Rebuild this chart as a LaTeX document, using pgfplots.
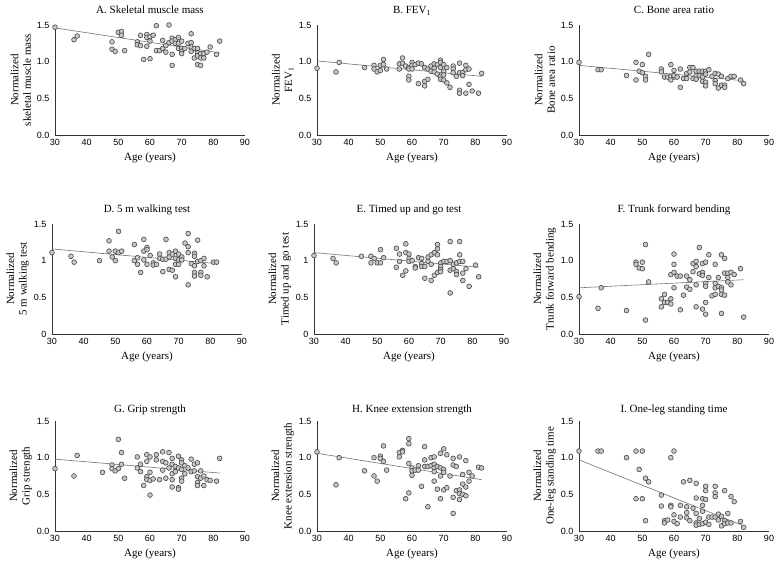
\documentclass[border=0pt]{standalone}
\usepackage{fontspec}
\setmainfont{Liberation Serif}
\newfontfamily\ticksf{Liberation Sans}
\usepackage{pgfplots}
\pgfplotsset{compat=1.18}

\pgfplotsset{
  panel/.style={
    scale only axis, width=190pt, height=110pt,
    xmin=30, xmax=90, ymin=0, ymax=1.5,
    xtick={30,40,...,90}, ytick={0,0.5,1,1.5},
    axis lines=left, axis line style={-, black!80, line width=0.6pt},
    major tick length=0pt, clip=false,
    tick label style={font=\ticksf\fontsize{9}{10}\selectfont},
    /pgf/number format/assume math mode=true,
    yticklabel style={xshift=-2pt},
    xticklabel style={yshift=-1pt},
    yticklabel style={/pgf/number format/.cd, fixed, fixed zerofill, precision=1},
    title style={font=\fontsize{11}{13}\selectfont, at={(axis description cs:0.5,1)}, anchor=base, yshift=5pt},
    label style={font=\fontsize{11}{12.5}\selectfont},
    xlabel={Age (years)},
    xlabel style={at={(axis description cs:0.5,-0.21)}, anchor=center},
    ylabel style={at={(axis description cs:-0.18,0.5)}, anchor=center, align=center},
  },
  dots/.style={only marks, mark=*, mark size=2.4pt,
    mark options={draw=black!72, fill=black!22, line width=0.6pt}},
  trend/.style={black!55, line width=0.6pt, no marks},
  plainy/.style={yticklabel style={/pgf/number format/.cd, fixed, precision=1, fixed zerofill=false}},
  lastrow/.style={title style={yshift=-3pt}},
}

\begin{document}
\begin{tikzpicture}[x=1pt,y=1pt]
\useasboundingbox (0,0) rectangle (780,565);

% A
\begin{axis}[panel, at={(55pt,430pt)}, anchor=south west,
  title={A. Skeletal muscle mass}, ylabel={Normalized\\skeletal muscle mass}]
\addplot[dots] coordinates {
(30,1.47) (36,1.30) (37,1.35) (48,1.27) (48,1.17) (49,1.14) (50,1.40) (51,1.41) (51,1.36) (52,1.15)
(56,1.27) (56,1.23) (57,1.36) (57,1.22) (58,1.03) (59,1.37) (59,1.33) (59,1.21) (60,1.34) (60,1.28)
(60,1.04) (61,1.36) (62,1.49) (62,1.15) (63,1.15) (64,1.29) (64,1.18) (65,1.22) (65,1.13) (66,1.50)
(66,1.26) (67,1.32) (67,1.28) (67,1.10) (67,0.95) (68,1.30) (68,1.25) (69,1.33) (69,1.25) (69,1.18)
(70,1.28) (70,1.18) (70,1.14) (70,1.11) (71,1.18) (72,1.25) (73,1.38) (73,1.26) (73,1.20) (73,1.14)
(74,1.18) (74,1.05) (75,1.18) (75,1.12) (75,1.08) (75,0.96) (76,1.11) (76,1.05) (76,0.95) (77,1.11)
(77,1.05) (78,1.13) (79,1.20) (81,1.10) (82,1.28)};
\addplot[trend] coordinates {(30,1.46) (82,1.12)};
\end{axis}

% B
\begin{axis}[panel, at={(317pt,430pt)}, anchor=south west,
  title={B. FEV\textsubscript{1}}, ylabel={Normalized\\FEV\textsubscript{1}}]
\addplot[dots] coordinates {
(30,0.91) (36,0.86) (37,0.99) (45,0.92) (48,0.95) (48,0.90) (49,0.86) (50,0.88) (50,0.95) (51,1.03)
(51,0.96) (52,0.90) (56,0.97) (56,0.90) (57,1.05) (57,0.98) (58,0.94) (59,0.92) (59,0.90) (59,0.80)
(59,0.75) (60,0.99) (60,0.95) (60,0.90) (61,0.96) (62,0.98) (62,0.70) (63,0.97) (64,0.92) (64,0.73)
(64,0.67) (65,0.76) (65,0.90) (66,0.87) (66,0.94) (67,0.97) (67,0.91) (67,0.86) (68,0.96) (68,0.83)
(69,1.02) (69,0.99) (69,0.92) (69,0.80) (69,0.76) (70,0.96) (70,0.87) (70,0.82) (70,0.75) (71,0.92)
(71,0.71) (72,0.65) (73,0.94) (73,0.90) (73,0.85) (74,0.80) (75,0.98) (75,0.85) (75,0.61) (75,0.57)
(76,0.85) (76,0.81) (77,0.95) (77,0.89) (77,0.57) (78,0.90) (78,0.69) (79,0.60) (81,0.57) (82,0.84)};
\addplot[trend] coordinates {(30,1.01) (82,0.80)};
\end{axis}

% C
\begin{axis}[panel, at={(579pt,430pt)}, anchor=south west,
  title={C. Bone area ratio}, ylabel={Normalized\\Bone area ratio}]
\addplot[dots] coordinates {
(30,0.99) (36,0.89) (37,0.89) (45,0.81) (48,0.99) (48,0.75) (49,0.87) (50,0.96) (50,0.85) (51,0.80)
(51,0.75) (52,1.10) (56,0.90) (56,0.86) (57,0.79) (58,0.79) (59,0.96) (59,0.80) (59,0.75) (60,0.88)
(60,0.79) (60,0.81) (61,0.79) (62,0.90) (62,0.65) (63,0.77) (64,0.84) (64,0.77) (65,0.86) (65,0.92)
(66,0.92) (66,0.77) (67,0.87) (67,0.81) (67,0.76) (68,0.87) (68,0.81) (69,0.87) (69,0.79) (69,0.73)
(70,0.87) (70,0.83) (70,0.72) (70,0.67) (71,0.89) (72,0.80) (73,0.84) (73,0.74) (73,0.70) (74,0.83)
(74,0.64) (75,0.80) (75,0.68) (76,0.68) (76,0.65) (77,0.77) (78,0.80) (79,0.80) (81,0.75) (82,0.70)};
\addplot[trend] coordinates {(30,0.95) (82,0.74)};
\end{axis}

% D
\begin{axis}[panel, plainy, at={(52pt,231pt)}, anchor=south west,
  title={D. 5 m walking test}, ylabel={Normalized\\5 m walking test}]
\addplot[dots] coordinates {
(30,1.11) (36,1.06) (37,0.98) (45,1.00) (48,1.27) (48,1.13) (49,1.05) (50,1.13) (50,1.00) (51,1.40)
(51,1.11) (52,1.13) (56,1.22) (56,1.00) (57,1.04) (57,0.95) (58,0.84) (59,1.29) (59,1.13) (59,1.01)
(60,1.18) (60,1.15) (60,0.95) (61,1.07) (62,0.97) (62,0.94) (63,0.95) (64,1.09) (64,1.03) (65,1.02)
(65,0.85) (66,1.29) (66,1.02) (67,1.11) (67,1.05) (67,0.88) (68,1.09) (68,0.87) (69,1.13) (69,1.03)
(69,0.95) (69,0.78) (70,1.09) (70,1.01) (70,0.95) (71,1.05) (71,1.01) (72,1.24) (73,1.37) (73,1.19)
(73,1.11) (73,0.67) (74,0.96) (75,1.10) (75,1.06) (75,0.93) (75,0.84) (75,0.79) (76,1.28) (76,0.99)
(77,1.00) (77,0.84) (77,0.80) (78,1.03) (78,0.93) (79,0.78) (81,0.98) (82,0.98)};
\addplot[trend] coordinates {(30,1.16) (82,0.96)};
\end{axis}

% E
\begin{axis}[panel, plainy, at={(314pt,231pt)}, anchor=south west,
  title={E. Timed up and go test}, ylabel={Normalized\\Timed up and go test}]
\addplot[dots] coordinates {
(30,1.07) (36,1.03) (37,0.97) (45,1.06) (48,1.06) (48,0.97) (49,1.03) (50,0.97) (51,0.97) (51,1.15)
(52,1.04) (56,1.17) (56,0.91) (57,1.09) (57,0.99) (58,0.80) (59,1.23) (59,1.11) (59,0.86) (60,1.09)
(60,1.03) (60,0.99) (61,1.00) (62,0.92) (62,0.90) (63,1.04) (64,1.03) (64,0.96) (64,0.92) (65,0.92)
(65,0.76) (66,1.05) (66,0.99) (67,1.08) (67,0.95) (67,0.73) (68,1.11) (68,0.80) (69,1.22) (69,1.16)
(69,1.08) (69,0.84) (70,0.97) (70,0.92) (70,0.88) (70,0.85) (71,0.99) (72,0.99) (73,1.26) (73,1.00)
(73,0.87) (73,0.56) (74,0.95) (74,0.89) (75,0.97) (75,0.85) (75,0.81) (76,1.26) (76,1.08) (76,0.99)
(77,0.99) (77,0.83) (77,0.73) (78,0.89) (79,0.65) (81,0.94) (82,0.78)};
\addplot[trend] coordinates {(30,1.11) (82,0.91)};
\end{axis}

% F
\begin{axis}[panel, at={(579pt,231pt)}, anchor=south west,
  title={F. Trunk forward bending}, ylabel={Normalized\\Trunk forward bending}]
\addplot[dots] coordinates {
(30,0.51) (36,0.35) (37,0.63) (45,0.32) (48,0.98) (48,0.95) (49,0.90) (50,0.89) (50,0.98) (51,1.22)
(51,0.19) (52,0.71) (56,0.48) (56,0.37) (57,0.54) (57,0.43) (58,0.43) (59,0.81) (59,0.48) (59,0.41)
(60,1.09) (60,0.95) (60,0.84) (60,0.63) (61,0.79) (62,0.79) (62,0.33) (63,0.53) (64,0.79) (64,0.64)
(65,0.74) (65,0.61) (66,0.85) (66,0.96) (67,0.99) (67,0.92) (67,0.67) (67,0.37) (68,1.18) (68,0.82)
(69,0.96) (69,0.84) (69,0.80) (69,0.34) (70,0.98) (70,0.69) (70,0.65) (70,0.43) (70,0.27) (71,1.08)
(71,0.77) (72,0.52) (73,0.95) (73,0.69) (73,0.63) (73,0.54) (74,0.77) (74,0.65) (75,1.08) (75,0.63)
(75,0.60) (75,0.54) (75,0.28) (76,1.03) (76,0.83) (76,0.53) (77,0.83) (77,0.77) (77,0.71) (78,0.84)
(78,0.67) (79,0.81) (81,0.89) (82,0.23)};
\addplot[trend] coordinates {(30,0.63) (82,0.74)};
\end{axis}

% G
\begin{axis}[panel, lastrow, at={(55pt,34pt)}, anchor=south west,
  title={G. Grip strength}, ylabel={Normalized\\Grip strength}]
\addplot[dots] coordinates {
(30,0.85) (36,0.75) (37,1.03) (45,0.80) (48,0.90) (48,0.85) (49,0.82) (50,1.25) (50,0.85) (51,1.07)
(51,0.91) (52,0.72) (56,1.01) (56,0.86) (57,0.91) (57,0.81) (58,0.62) (59,1.04) (59,0.95) (59,0.74)
(59,0.70) (60,1.01) (60,0.80) (60,0.69) (60,0.49) (61,0.71) (62,1.04) (62,0.97) (63,0.70) (64,1.08)
(64,0.95) (64,0.83) (65,0.93) (65,0.72) (66,1.07) (66,0.86) (67,0.99) (67,0.91) (67,0.78) (67,0.70)
(67,0.60) (68,0.88) (68,0.81) (69,1.02) (69,0.86) (69,0.59) (69,0.57) (70,0.97) (70,0.93) (70,0.84)
(70,0.72) (70,0.68) (71,0.89) (71,0.78) (72,0.86) (73,0.98) (73,0.81) (74,0.91) (74,0.82) (75,0.93)
(75,0.74) (75,0.66) (75,0.62) (76,0.82) (76,0.72) (77,0.75) (77,0.62) (78,0.70) (79,0.69) (81,0.68)
(82,0.99)};
\addplot[trend] coordinates {(30,0.98) (82,0.79)};
\end{axis}

% H
\begin{axis}[panel, lastrow, at={(317pt,34pt)}, anchor=south west,
  title={H. Knee extension strength}, ylabel={Normalized\\Knee extension strength}]
\addplot[dots] coordinates {
(30,1.08) (36,0.63) (37,1.00) (45,0.82) (48,1.00) (48,0.75) (49,0.68) (50,1.02) (50,0.99) (51,0.95)
(51,1.16) (52,0.83) (56,1.07) (56,1.01) (57,1.10) (57,1.08) (58,0.44) (59,1.26) (59,1.19) (59,0.92)
(59,0.52) (60,0.86) (60,0.82) (60,0.76) (61,0.83) (62,0.89) (62,0.83) (63,0.61) (64,1.15) (64,0.97)
(64,0.88) (65,0.88) (65,0.33) (66,1.00) (66,0.89) (67,1.01) (67,0.91) (67,0.86) (67,0.81) (67,0.68)
(68,0.88) (68,0.57) (69,1.06) (69,0.86) (69,0.75) (69,0.44) (70,1.12) (70,0.84) (70,0.80) (70,0.56)
(71,1.04) (71,0.59) (72,0.75) (73,0.99) (73,0.90) (73,0.46) (73,0.24) (74,0.88) (74,0.55) (75,1.01)
(75,0.56) (75,0.51) (75,0.43) (76,0.77) (76,0.64) (76,0.50) (77,0.96) (77,0.60) (77,0.48) (78,0.80)
(78,0.68) (79,0.75) (81,0.87) (82,0.86)};
\addplot[trend] coordinates {(30,1.06) (82,0.70)};
\end{axis}

% I
\begin{axis}[panel, lastrow, at={(579pt,34pt)}, anchor=south west,
  title={I. One-leg standing time}, ylabel={Normalized\\One-leg standing time}]
\addplot[dots] coordinates {
(30,1.09) (36,1.09) (37,1.09) (45,1.00) (48,1.09) (48,0.44) (49,0.84) (50,1.09) (50,0.44) (51,0.72)
(51,0.14) (52,0.67) (56,0.49) (56,0.34) (57,0.14) (57,0.11) (58,0.15) (59,1.00) (59,0.35) (59,0.33)
(60,1.09) (60,0.22) (60,0.13) (61,0.10) (62,0.35) (62,0.19) (63,0.67) (64,0.33) (64,0.25) (64,0.18)
(65,0.69) (65,0.14) (66,0.31) (67,0.65) (67,0.45) (67,0.24) (67,0.11) (67,0.08) (68,0.17) (68,0.09)
(69,0.44) (69,0.35) (69,0.27) (69,0.10) (70,0.61) (70,0.55) (70,0.43) (70,0.12) (71,0.19) (71,0.09)
(72,0.19) (73,0.61) (73,0.52) (73,0.47) (73,0.19) (74,0.23) (74,0.15) (75,0.20) (75,0.07) (76,0.55)
(76,0.14) (76,0.10) (77,0.24) (77,0.11) (78,0.47) (78,0.11) (79,0.40) (81,0.13) (82,0.05)};
\addplot[trend] coordinates {(30,0.97) (82,0.07)};
\end{axis}
\end{tikzpicture}
\end{document}
